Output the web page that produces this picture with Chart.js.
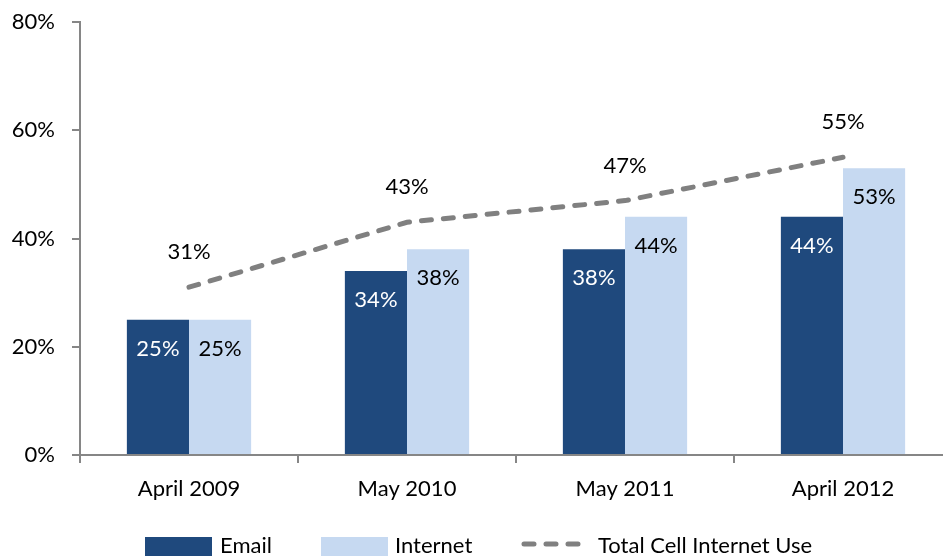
<!DOCTYPE html>
<html>
<head>
<meta charset="utf-8">
<script src="https://cdn.jsdelivr.net/npm/chart.js@4"></script>
<style>
  html, body { margin: 0; padding: 0; background: #fff; overflow: hidden; }
  #wrap { width: 960px; height: 556px; }
</style>
</head>
<body>
<div id="wrap"><canvas id="chart" width="960" height="556"></canvas></div>
<script>
var categories = ['April 2009', 'May 2010', 'May 2011', 'April 2012'];
var emailValues = [25, 34, 38, 44];
var internetValues = [25, 38, 44, 53];
var totalValues = [31, 43, 47, 55];
var yTicks = [0, 20, 40, 60, 80];

var FONT = 'Lato, "Open Sans", sans-serif';
var FSIZE = 22;
var DARK = '#1F497D';
var LIGHT = '#C6D9F1';
var GRAY = '#808080';
var AXIS = '#868686';

// value labels + legend drawn by hand
var labelsPlugin = {
    id: 'valueLabels',
    afterDatasetsDraw: function (chart) {
        var ctx = chart.ctx;
        ctx.save();
        ctx.font = FSIZE + 'px ' + FONT;
        ctx.textAlign = 'center';
        ctx.textBaseline = 'middle';
        chart.data.datasets.forEach(function (ds, i) {
            var meta = chart.getDatasetMeta(i);
            meta.data.forEach(function (el, j) {
                var txt = ds.data[j] + '%';
                if (ds.type === 'line') {
                    ctx.fillStyle = '#000';
                    ctx.fillText(txt, el.x, el.y - 35);
                } else {
                    ctx.fillStyle = i === 0 ? '#fff' : '#000';
                    ctx.fillText(txt, el.x, el.y + 29);
                }
            });
        });
        ctx.restore();
    },
    afterDraw: function (chart) {
        var ctx = chart.ctx;
        ctx.save();
        ctx.font = FSIZE + 'px ' + FONT;
        ctx.textBaseline = 'middle';
        ctx.textAlign = 'left';
        ctx.fillStyle = DARK;
        ctx.fillRect(145, 537, 67, 22);
        ctx.fillStyle = LIGHT;
        ctx.fillRect(321, 537, 67, 22);
        ctx.strokeStyle = GRAY;
        ctx.lineWidth = 5;
        ctx.lineCap = 'round';
        ctx.setLineDash([10, 12]);
        ctx.beginPath();
        ctx.moveTo(524, 544);
        ctx.lineTo(582, 544);
        ctx.stroke();
        ctx.setLineDash([]);
        ctx.fillStyle = '#000';
        ctx.fillText('Email', 220, 546);
        ctx.fillText('Internet', 395, 546);
        ctx.fillText('Total Cell Internet Use', 598, 546);
        ctx.restore();
    }
};

new Chart(document.getElementById('chart'), {
    type: 'bar',
    data: {
        labels: categories,
        datasets: [
            {
                label: 'Email',
                data: emailValues,
                backgroundColor: DARK,
                categoryPercentage: 0.57,
                barPercentage: 1.0,
                order: 2
            },
            {
                label: 'Internet',
                data: internetValues,
                backgroundColor: LIGHT,
                categoryPercentage: 0.57,
                barPercentage: 1.0,
                order: 2
            },
            {
                type: 'line',
                label: 'Total Cell Internet Use',
                data: totalValues,
                borderColor: GRAY,
                borderWidth: 5,
                borderDash: [10, 12],
                borderCapStyle: 'round',
                pointRadius: 0,
                fill: false,
                tension: 0,
                order: 1
            }
        ]
    },
    options: {
        responsive: false,
        animation: false,
        layout: { padding: { top: 22, right: 8, left: 0, bottom: 0 } },
        plugins: {
            legend: { display: false },
            tooltip: { enabled: false }
        },
        scales: {
            x: {
                offset: true,
                grid: {
                    offset: true,
                    drawOnChartArea: false,
                    tickLength: 8,
                    color: AXIS,
                    lineWidth: 2
                },
                border: { color: AXIS, width: 2 },
                ticks: {
                    font: { family: FONT, size: FSIZE },
                    color: '#000',
                    padding: 13
                },
                afterFit: function (scale) {
                    scale.height = 101;
                    scale.paddingLeft = 0;
                    scale.paddingRight = 0;
                }
            },
            y: {
                min: 0,
                max: 80,
                afterBuildTicks: function (scale) {
                    scale.ticks = yTicks.map(function (v) { return { value: v }; });
                },
                grid: {
                    drawOnChartArea: false,
                    tickLength: 8,
                    color: AXIS,
                    lineWidth: 2
                },
                border: { color: AXIS, width: 2 },
                ticks: {
                    font: { family: FONT, size: FSIZE },
                    color: '#000',
                    padding: 17,
                    callback: function (v) { return v + '%'; }
                },
                afterFit: function (scale) {
                    scale.width = 80;
                    scale.paddingTop = 0;
                    scale.paddingBottom = 0;
                }
            }
        }
    },
    plugins: [labelsPlugin]
});
</script>
</body>
</html>
